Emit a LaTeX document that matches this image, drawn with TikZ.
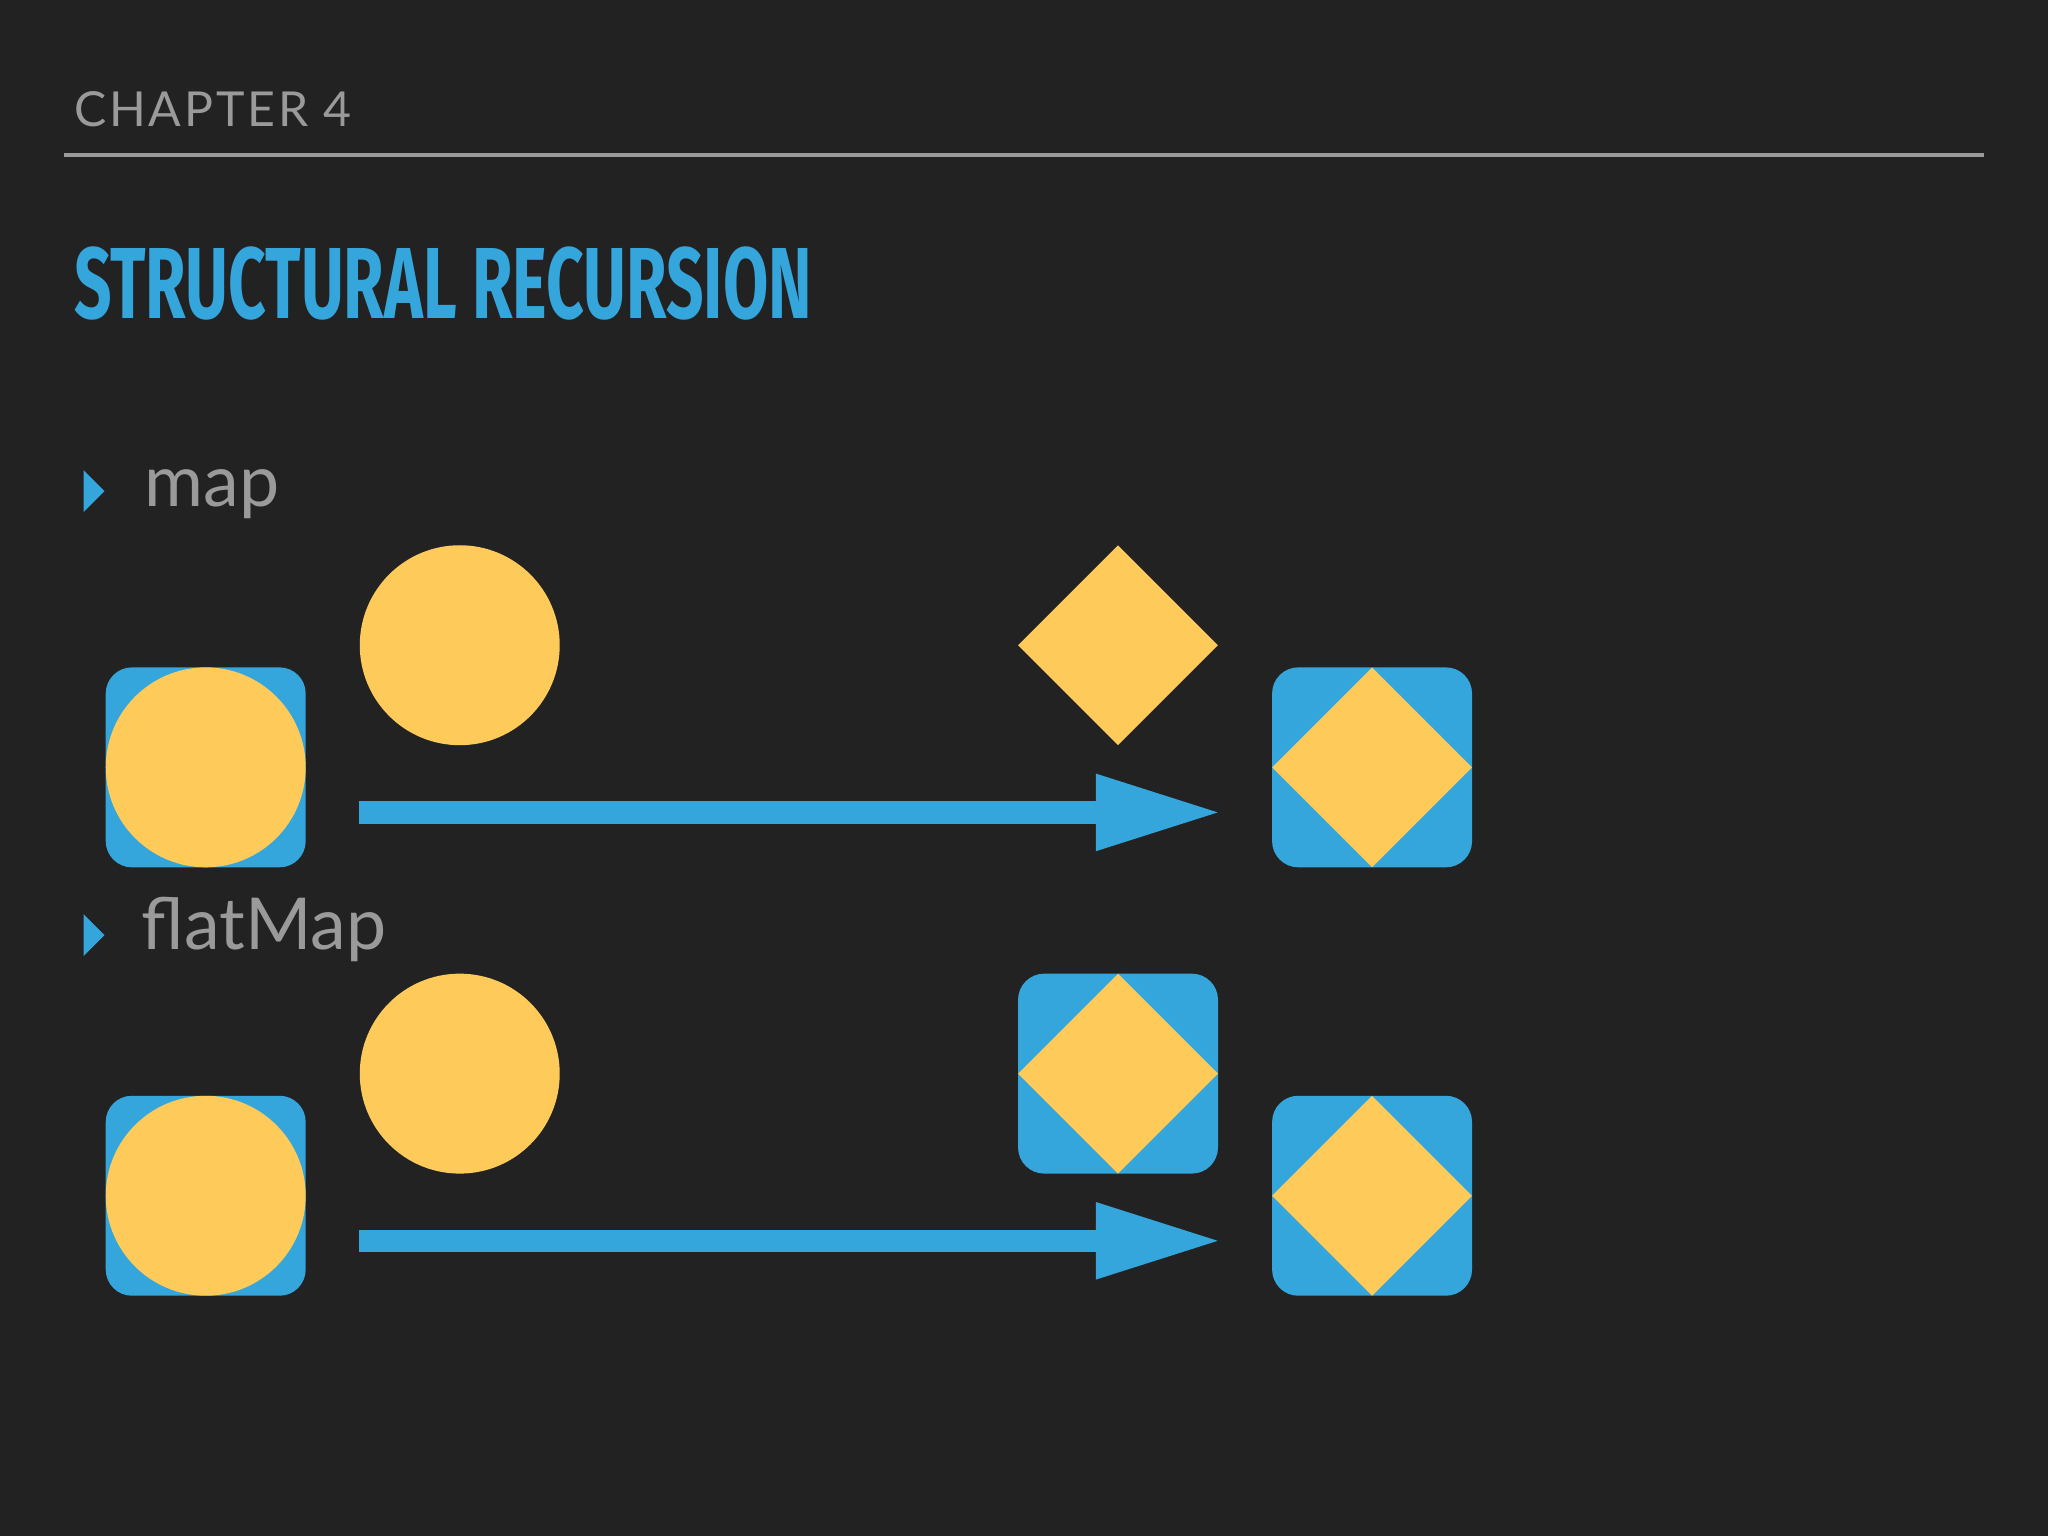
\documentclass[tikz,border=0pt]{standalone}
\usepackage{fontspec}
\setmainfont{Lato}
\newfontfamily\titlefont{Fira Sans}
\usetikzlibrary{arrows.meta}
\definecolor{bg}{HTML}{222223}
\definecolor{yel}{HTML}{FECB5A}
\definecolor{blu}{HTML}{35A6DC}
\definecolor{gr}{HTML}{9A9A9A}
\begin{document}
\begin{tikzpicture}[x=0.01cm,y=-0.01cm,
  boxsq/.style={fill=blu,rounded corners=0.2cm,minimum size=1.53cm,inner sep=0,draw=none},
  circ/.style={circle,fill=yel,minimum size=1.53cm,inner sep=0},
  bul/.style={fill=blu},
  lbl/.style={anchor=base west,text=gr,font=\fontsize{15.6}{18}\selectfont,inner sep=0},
  arr/.style={draw=blu,line width=0.17cm,-{Triangle[length=0.97cm,width=0.54cm]}}]
\fill[bg] (0,0) rectangle (1568,1176);
\useasboundingbox (0,0) rectangle (1568,1176);
\node[anchor=base west,inner sep=0,text=gr,font=\fontsize{10.5}{12}\selectfont] (ch) at (56,97) {\addfontfeature{LetterSpace=6}CHAPTER 4};
\draw[gr,line width=0.03cm] (49,119) -- (1519,119);
\node[anchor=base west,inner sep=0,text=blu] (tt) at (56,244) {\scalebox{0.65}[1]{\titlefont\bfseries\fontsize{22}{26}\selectfont STRUCTURAL RECURSION}};
% bullets
\fill[bul] (64,360) -- (80,376) -- (64,392) -- cycle;
\fill[bul] (64,700) -- (80,716) -- (64,732) -- cycle;
\node[lbl] (m) at (110,388) {map};
\node[lbl] (fm) at (108,727) {flatMap};
% diamond helper
\newcommand{\mydia}[2]{\fill[yel] (#1-76.5,#2) -- (#1,#2-76.5) -- (#1+76.5,#2) -- (#1,#2+76.5) -- cycle;}
% row 1
\node[boxsq] (b1) at (157.5,587.5) {};
\node[circ] (c1) at (157.5,587.5) {};
\node[circ] (f1) at (352,494) {};
\mydia{856}{494}
\node[boxsq] (r1) at (1050.5,587.5) {};
\mydia{1050.5}{587.5}
\coordinate (a1) at (275,622); \coordinate (e1) at (936,622);
\draw[arr] (a1) -- (e1);
% row 2
\node[boxsq] (b2) at (157.5,915.5) {};
\node[circ] (c2) at (157.5,915.5) {};
\node[circ] (f2) at (352,822) {};
\node[boxsq] (g2) at (856,822) {};
\mydia{856}{822}
\node[boxsq] (r2) at (1050.5,915.5) {};
\mydia{1050.5}{915.5}
\coordinate (a2) at (275,950); \coordinate (e2) at (936,950);
\draw[arr] (a2) -- (e2);
\end{tikzpicture}
\end{document}
